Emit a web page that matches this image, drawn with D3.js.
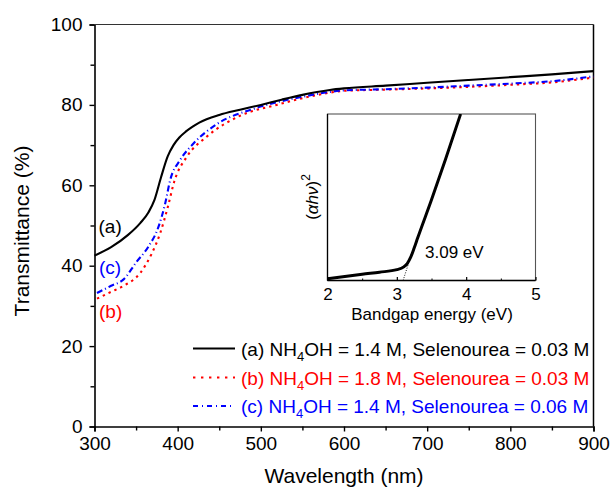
<!DOCTYPE html>
<html>
<head>
<meta charset="utf-8">
<script src="https://cdn.jsdelivr.net/npm/d3@7/dist/d3.min.js"></script>
<style>
  html, body { margin: 0; padding: 0; background: #fff; }
  text { font-family: "Liberation Sans", Arial, sans-serif; }
</style>
</head>
<body>
<svg id="chart" width="611" height="491"></svg>
<script>
// ---- Data ----
const wlA = [300, 320, 340, 355, 365, 372, 380, 388, 395, 402, 410, 418, 426, 450, 475, 500, 525, 550, 583, 600, 650, 700, 750, 800, 850, 900];
const tA  = [42.5, 44.6, 47.6, 50.6, 53.3, 56.3, 62.0, 67.2, 70.0, 71.9, 73.4, 74.6, 75.6, 77.5, 78.8, 80.0, 81.3, 82.5, 83.7, 84.1, 84.8, 85.5, 86.2, 86.9, 87.6, 88.4];

const wlB = [303, 320, 335, 355, 369, 379, 388, 396, 411, 435, 475, 519, 571, 600, 650, 700, 750, 800, 850, 900];
const tB  = [31.8, 33.5, 35.0, 38.2, 43.1, 48.1, 54.5, 61.0, 67.1, 72.1, 77.3, 80.0, 82.6, 83.5, 83.8, 84.1, 84.5, 85.0, 85.6, 86.8];

const wlC = [303, 320, 335, 350, 365, 377, 385, 391, 403, 419, 447, 491, 547, 600, 650, 700, 750, 800, 850, 900];
const tC  = [33.2, 35.0, 36.6, 40.8, 44.8, 49.7, 55.5, 61.3, 66.3, 70.4, 75.2, 79.0, 81.9, 83.6, 83.9, 84.3, 84.8, 85.3, 85.9, 87.1];

const xTicks = [300, 400, 500, 600, 700, 800, 900];
const xMinor = [350, 450, 550, 650, 750, 850];
const yTicks = [0, 20, 40, 60, 80, 100];
const yMinor = [10, 30, 50, 70, 90];

const seriesNames = ["(a)", "(b)", "(c)"];
const seriesColors = ["#000000", "#ff0000", "#0000ff"];
const seriesDash = [null, "2.4,4", "6,3,1,3"];
const legendPre = ["(a) NH", "(b) NH", "(c) NH"];
const legendPost = ["OH = 1.4 M, Selenourea = 0.03 M", "OH = 1.8 M, Selenourea = 0.03 M", "OH = 1.4 M, Selenourea = 0.06 M"];

// Inset (Tauc plot)
const eV   = [2.0, 2.25, 2.5, 2.75, 3.0, 3.1, 3.15, 3.2, 3.25, 3.3, 3.5, 3.7, 3.92];
const tauc = [1.0, 2.4, 3.8, 5.0, 6.5, 8.2, 10.2, 14.0, 19.5, 25.5, 48.5, 72.5, 100];
const fitE = [3.09, 3.17];
const fitV = [0, 10.4];
const insetXTicks = [2, 3, 4, 5];
const insetXMinor = [2.5, 3.5, 4.5];
const bandgapLabel = "3.09 eV";

// ---- Drawing ----
const svg = d3.select("#chart");
const L = 94.5, R = 593.5, T = 24.5, B = 426.5;
const x = d3.scaleLinear().domain([300, 900]).range([L, R]);
const y = d3.scaleLinear().domain([0, 100]).range([B, T]);

// axes
const gx = svg.append("g").attr("transform", `translate(0,${B})`)
  .call(d3.axisBottom(x).tickValues(xTicks).tickSize(5).tickPadding(5).tickFormat(d3.format("d")));
svg.append("g").attr("transform", `translate(0,${B})`)
  .call(d3.axisBottom(x).tickValues(xMinor).tickSize(4).tickFormat(""))
  .call(g => g.select(".domain").remove());
const gy = svg.append("g").attr("transform", `translate(${L},0)`)
  .call(d3.axisLeft(y).tickValues(yTicks).tickSize(5).tickPadding(7).tickFormat(d3.format("d")));
svg.append("g").attr("transform", `translate(${L},0)`)
  .call(d3.axisLeft(y).tickValues(yMinor).tickSize(4).tickFormat(""))
  .call(g => g.select(".domain").remove());

svg.selectAll(".domain").attr("stroke", "#000").attr("stroke-width", 1.6);
svg.selectAll(".tick line").attr("stroke", "#000").attr("stroke-width", 1.4);
gx.selectAll("text").attr("font-size", 19).attr("fill", "#000").attr("font-family", "Liberation Sans, Arial, sans-serif");
gy.selectAll("text").attr("font-size", 19).attr("fill", "#000").attr("font-family", "Liberation Sans, Arial, sans-serif");

// top & right frame
svg.append("line").attr("x1", L).attr("x2", R).attr("y1", T).attr("y2", T).attr("stroke", "#333").attr("stroke-width", 1.2);
svg.append("line").attr("x1", R).attr("x2", R).attr("y1", T).attr("y2", B).attr("stroke", "#000").attr("stroke-width", 1.5);

// axis titles
svg.append("text").attr("x", (L + R) / 2).attr("y", 483).attr("text-anchor", "middle")
  .attr("font-size", 21).text("Wavelength (nm)");
svg.append("text").attr("transform", "translate(29,231) rotate(-90)").attr("text-anchor", "middle")
  .attr("font-size", 21).text("Transmittance (%)");

// curves
const series = [
  { wl: wlA, t: tA },
  { wl: wlB, t: tB },
  { wl: wlC, t: tC }
];
const line = d3.line().x(d => x(d[0])).y(d => y(d[1])).curve(d3.curveMonotoneX);
// draw order: b, c, a (black on top)
[1, 2, 0].forEach(i => {
  const s = series[i];
  const p = svg.append("path")
    .datum(s.wl.map((w, k) => [w, s.t[k]]))
    .attr("fill", "none")
    .attr("stroke", seriesColors[i])
    .attr("stroke-width", 2.1)
    .attr("d", line);
  if (seriesDash[i]) p.attr("stroke-dasharray", seriesDash[i]);
});

// curve labels
const lblPos = [[98.5, 233], [99, 318], [99, 274]];
seriesNames.forEach((n, i) => {
  svg.append("text").attr("x", lblPos[i][0]).attr("y", lblPos[i][1])
    .attr("font-size", 19).attr("fill", seriesColors[i]).text(n);
});

// legend
const legBase = [355.5, 384.5, 413];
seriesNames.forEach((n, i) => {
  const g = svg.append("g");
  const ly = legBase[i] - 7;
  const ln = g.append("line").attr("x1", 193).attr("x2", 235).attr("y1", ly).attr("y2", ly)
    .attr("stroke", seriesColors[i]).attr("stroke-width", 2.1);
  if (seriesDash[i]) ln.attr("stroke-dasharray", i === 1 ? "2.4,5.6" : "5,4,1,4");
  const t = g.append("text").attr("x", 241).attr("y", legBase[i]).attr("font-size", 19).attr("fill", seriesColors[i]);
  t.append("tspan").text(legendPre[i]);
  t.append("tspan").attr("font-size", 13).attr("dy", 5).text("4");
  t.append("tspan").attr("dy", -5).text(legendPost[i]);
});

// ---- Inset ----
const iL = 327.5, iR = 535.5, iT = 114, iB = 280.5;
const ix = d3.scaleLinear().domain([2, 5]).range([iL, iR]);
const iy = d3.scaleLinear().domain([0, 100]).range([iB, iT]);
svg.append("rect").attr("x", iL).attr("y", iT).attr("width", iR - iL).attr("height", iB - iT)
  .attr("fill", "#fff").attr("stroke", "#555").attr("stroke-width", 1.1);
svg.append("line").attr("x1", iL).attr("x2", iL).attr("y1", iT).attr("y2", iB).attr("stroke", "#000").attr("stroke-width", 1.3);
svg.append("line").attr("x1", iL).attr("x2", iR).attr("y1", iB).attr("y2", iB).attr("stroke", "#000").attr("stroke-width", 1.3);

const gix = svg.append("g").attr("transform", `translate(0,${iB})`)
  .call(d3.axisBottom(ix).tickValues(insetXTicks).tickSizeInner(-3.5).tickSizeOuter(0).tickPadding(7).tickFormat(d3.format("d")));
gix.select(".domain").remove();
gix.selectAll("line").attr("stroke", "#000").attr("stroke-width", 1.2);
gix.selectAll("text").attr("font-size", 17).attr("fill", "#000").attr("font-family", "Liberation Sans, Arial, sans-serif");
const gim = svg.append("g").attr("transform", `translate(0,${iB})`)
  .call(d3.axisBottom(ix).tickValues(insetXMinor).tickSizeInner(-2).tickSizeOuter(0).tickFormat(""));
gim.select(".domain").remove();
gim.selectAll("line").attr("stroke", "#000").attr("stroke-width", 1);

svg.append("defs").append("clipPath").attr("id", "iclip")
  .append("rect").attr("x", iL).attr("y", iT).attr("width", iR - iL).attr("height", iB - iT);

const iline = d3.line().x(d => ix(d[0])).y(d => iy(d[1])).curve(d3.curveMonotoneX);
svg.append("path").datum(fitE.map((e, k) => [e, fitV[k]]))
  .attr("fill", "none").attr("stroke", "#000").attr("stroke-width", 0.9).attr("stroke-dasharray", "1,1.5")
  .attr("d", iline);
svg.append("path").datum(eV.map((e, k) => [e, tauc[k]]))
  .attr("clip-path", "url(#iclip)")
  .attr("fill", "none").attr("stroke", "#000").attr("stroke-width", 3)
  .attr("d", iline);

svg.append("text").attr("x", 425).attr("y", 258).attr("font-size", 17).text(bandgapLabel);
svg.append("text").attr("x", (iL + iR) / 2 + 0.5).attr("y", 320).attr("text-anchor", "middle")
  .attr("font-size", 17).text("Bandgap energy (eV)");
const yt = svg.append("text").attr("transform", "translate(318,197) rotate(-90)").attr("text-anchor", "middle")
  .attr("font-size", 17);
yt.append("tspan").text("(");
yt.append("tspan").attr("font-style", "italic").text("αhν");
yt.append("tspan").text(")");
yt.append("tspan").attr("font-size", 12).attr("dy", -8).text("2");
</script>
</body>
</html>
